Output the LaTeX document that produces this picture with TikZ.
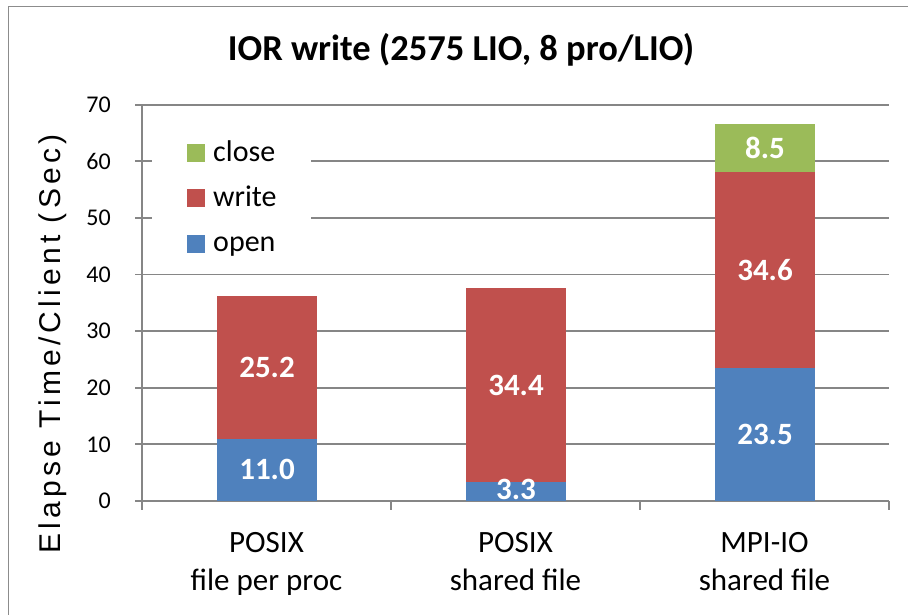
\documentclass[tikz,border=0pt]{standalone}
\usepackage{fontspec}
\setmainfont{Carlito}
\newfontfamily\axisfont{Liberation Sans}[LetterSpace=14]
\definecolor{xblue}{HTML}{4F81BD}
\definecolor{xred}{HTML}{C0504D}
\definecolor{xgreen}{HTML}{9BBB59}
\definecolor{xgrid}{HTML}{868686}
\definecolor{xframe}{HTML}{8C8C8C}
\tikzset{
  gridline/.style={draw=xgrid, line width=1.8pt},
  axisline/.style={draw=xgrid, line width=1.8pt},
  datalabel/.style={text=white, font=\fontsize{31}{37}\selectfont\bfseries, inner sep=0pt},
  ticklabel/.style={font=\fontsize{24}{28}\selectfont, anchor=east, inner sep=0pt},
  catlabel/.style={font=\fontsize{31}{38}\selectfont, anchor=base, inner sep=0pt},
  legtext/.style={font=\fontsize{30}{36}\selectfont, anchor=base west, inner sep=0pt},
}
\begin{document}
\begin{tikzpicture}[x=1pt,y=-1pt]
\useasboundingbox (0,0) rectangle (908,614);
% frame
\draw[xframe, line width=1.6pt] (8.5,620) -- (8.5,6.5) -- (915,6.5);
% title
\node[font=\fontsize{36.5}{42}\selectfont\bfseries, anchor=base, inner sep=0pt] (title) at (461,60.7) {IOR write (2575 LIO, 8 pro/LIO)};
% gridlines and ticks
\foreach \v in {1,...,7} {
  \pgfmathsetmacro\yy{501-\v*56.61}
  \draw[gridline] (135,\yy) -- (889,\yy);
}
\foreach \v in {0,...,7} {
  \pgfmathsetmacro\yy{501-\v*56.61}
  \pgfmathtruncatemacro\lab{\v*10}
  \node[ticklabel] (tick\v) at (111,\yy) {\lab};
}
% legend background hides gridlines
\fill[white] (152,112) rectangle (311,268);
% axes
\draw[axisline] (142,104.7) -- (142,510);
\draw[axisline] (135,501) -- (889,501);
\foreach \x in {391,640,889} { \draw[axisline] (\x,501) -- (\x,510); }
% bars
\fill[xblue] (217,501) rectangle (317,438.7);
\fill[xred] (217,438.7) rectangle (317,296.1);
\fill[xblue] (466,501) rectangle (566,482.3);
\fill[xred] (466,482.3) rectangle (566,287.6);
\fill[xblue] (715,501) rectangle (815,368.0);
\fill[xred] (715,368.0) rectangle (815,172.1);
\fill[xgreen] (715,172.1) rectangle (815,124.0);
% data labels
\node[datalabel] (l1a) at (267,469.9) {11.0};
\node[datalabel] (l1b) at (267,367.4) {25.2};
\node[datalabel] (l2a) at (516,489.5) {3.3};
\node[datalabel] (l2b) at (516,385.0) {34.4};
\node[datalabel] (l3a) at (765,434.5) {23.5};
\node[datalabel] (l3b) at (765,270.0) {34.6};
\node[datalabel] (l3c) at (765,148.0) {8.5};
% category labels
\node[catlabel] (c1a) at (266.5,552) {POSIX};
\node[catlabel] (c1b) at (266.5,590.7) {file per proc};
\node[catlabel] (c2a) at (515.5,552) {POSIX};
\node[catlabel] (c2b) at (515.5,590.7) {shared file};
\node[catlabel] (c3a) at (764.5,552) {MPI-IO};
\node[catlabel] (c3b) at (764.5,590.7) {shared file};
% axis title
\node[rotate=90, anchor=base, inner sep=0pt, font=\axisfont\fontsize{30}{36}\selectfont] (ytitle) at (60,344) {Elapse Time/Client (Sec)};
% legend
\fill[xgreen] (187,144) rectangle (205,162);
\fill[xred] (187,189) rectangle (205,207);
\fill[xblue] (187,235) rectangle (205,253);
\node[legtext] (lg1) at (213,161.7) {close};
\node[legtext] (lg2) at (213,206.7) {write};
\node[legtext] (lg3) at (213,251.7) {open};
\end{tikzpicture}
\end{document}
